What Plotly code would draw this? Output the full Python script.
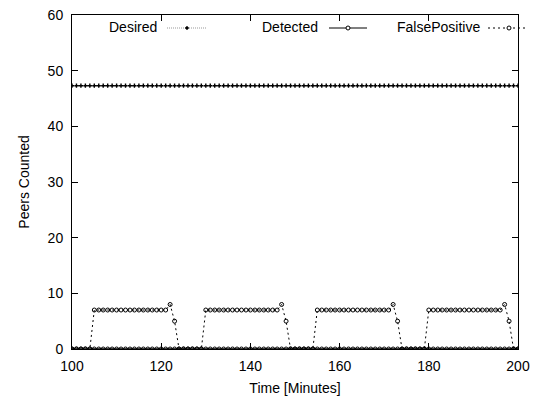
import plotly.graph_objects as go

# Time axis (minutes) and the three counted series
time_min = list(range(100, 201))
desired = [47.3] * len(time_min)
detected = [0] * len(time_min)
false_positive = (
    [0, 0, 0, 0, 0]
    + [7] * 17 + [8, 5] + [0, 0, 0, 0, 0, 0]
    + [7] * 17 + [8, 5] + [0, 0, 0, 0, 0, 0]
    + [7] * 17 + [8, 5] + [0, 0, 0, 0, 0, 0]
    + [7] * 17 + [8, 5] + [0, 0]
)

x_ticks = [100, 120, 140, 160, 180, 200]
y_ticks = [0, 10, 20, 30, 40, 50, 60]

FONT = "Liberation Sans, Arial, Helvetica, sans-serif"

fig = go.Figure()
fig.add_trace(go.Scatter(
    x=time_min, y=desired, name="Desired", mode="lines+markers",
    line=dict(color="#000000", width=1, dash="1px,2px"),
    marker=dict(symbol="cross", size=3.5, color="#000000", line=dict(width=0)),
))
fig.add_trace(go.Scatter(
    x=time_min, y=detected, name="Detected", mode="lines+markers",
    line=dict(color="#000000", width=1.5),
    marker=dict(symbol="circle-open", size=4, color="#000000", line=dict(width=1)),
))
fig.add_trace(go.Scatter(
    x=time_min, y=false_positive, name="FalsePositive", mode="lines+markers",
    line=dict(color="#000000", width=1, dash="2px,3px"),
    marker=dict(symbol="circle-open", size=4, color="#000000", line=dict(width=1)),
))

# gnuplot-style key: label on the left, line sample on the right
L, R, T, B = 72, 21, 15, 47
W, H = 539, 396
pw, ph = W - L - R, H - T - B

def px_x(p):
    return (p - L) / pw

def px_y(p):
    return 1 - (p - T) / ph

key = [
    ("Desired", 159, 167, 207, 187, dict(color="#999999", width=1, dash="1px,1px"), "dot"),
    ("Detected", 320, 329, 367, 348, dict(color="#000000", width=1), "open"),
    ("FalsePositive", 482, 488, 527, 509, dict(color="#000000", width=1, dash="2px,3px"), "open"),
]
key_y = 27
for label, tx, s0, s1, mx, lstyle, mk in key:
    fig.add_annotation(
        x=px_x(tx), y=px_y(key_y), xref="paper", yref="paper",
        text=label, showarrow=False, xanchor="right", yanchor="middle",
        font=dict(family=FONT, size=14, color="#000000"),
    )
    fig.add_shape(
        type="line", xref="paper", yref="paper",
        x0=px_x(s0), x1=px_x(s1), y0=px_y(key_y + 1), y1=px_y(key_y + 1),
        line=lstyle,
    )
    r = 1.3 if mk == "dot" else 2
    fig.add_shape(
        type="circle", xref="paper", yref="paper",
        x0=px_x(mx - r), x1=px_x(mx + r), y0=px_y(key_y + 1 + r), y1=px_y(key_y + 1 - r),
        line=dict(color="#000000", width=1),
        fillcolor="#000000" if mk == "dot" else "#ffffff",
    )

axis_common = dict(
    showgrid=False, zeroline=False, showline=True, linecolor="#000000", linewidth=1,
    mirror="allticks", ticks="inside", ticklen=6, tickcolor="#000000", tickwidth=1,
    tickfont=dict(family=FONT, size=14, color="#000000"), automargin=False,
)

fig.update_layout(
    width=W, height=H,
    margin=dict(l=L, r=R, t=T, b=B),
    paper_bgcolor="#ffffff", plot_bgcolor="#ffffff",
    showlegend=False,
    font=dict(family=FONT, size=14, color="#000000"),
    xaxis=dict(
        range=[100, 200], tickvals=x_ticks, ticklabelstandoff=4,
        title=dict(text="Time [Minutes]", font=dict(family=FONT, size=14), standoff=10),
        **axis_common,
    ),
    yaxis=dict(
        range=[0, 60], tickvals=y_ticks, ticklabelstandoff=5,
        title=dict(text="Peers Counted", font=dict(family=FONT, size=14), standoff=14),
        **axis_common,
    ),
)

fig.write_html("out.html")
